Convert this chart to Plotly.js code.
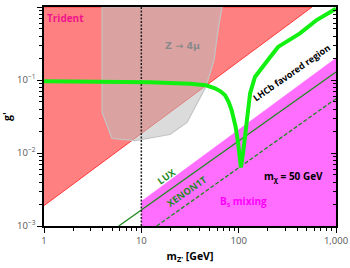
<!DOCTYPE html>
<html>
<head>
<meta charset="utf-8">
<script src="https://cdn.plot.ly/plotly-3.0.1.min.js"></script>
<style>html,body{margin:0;padding:0;background:#fff;}#chart{width:350px;height:268px;}</style>
</head>
<body>
<div id="chart"></div>
<script>
// ---- data ----
const tridentM = [1, 568, 1];
const tridentG = [0.0019, 1, 1];

const z4muM = [3.95, 67.5, 61.4, 55.9, 50.9, 45.2, 29.5, 19.7, 8.62, 5.0, 3.95, 3.95];
const z4muG = [1, 1, 0.483, 0.187, 0.124, 0.0769, 0.0262, 0.0179, 0.0148, 0.0158, 0.036, 1];

const bsM = [10, 1000, 1000, 10];
const bsG = [0.00217, 0.199, 0.001, 0.001];

const luxM = [5.86, 1000];
const luxG = [0.001, 0.129];

const xenonM = [14.4, 1000];
const xenonG = [0.001, 0.0555];

const cutM = [10, 10];
const cutG = [0.001, 1];

const relicM = [1, 3.76, 12.3, 31.6, 46.1, 57, 65, 72.5, 79, 84.8, 89, 93.2, 98.8, 105.4,
                111, 114, 118, 124, 131, 147, 170, 187.5, 210, 254, 330, 426, 633, 870, 1000];
const relicG = [0.096, 0.0944, 0.093, 0.0887, 0.0846, 0.0769, 0.070, 0.0616, 0.050, 0.0383, 0.029, 0.0226, 0.0135, 0.00635,
                0.0100, 0.0135, 0.0226, 0.0383, 0.0656, 0.110, 0.145, 0.170, 0.205, 0.284, 0.353, 0.435, 0.663, 0.861, 0.95];

const xTickVals = [1, 10, 100, 1000];
const xTickText = ['1', '10', '100', '1,000'];
const yTickVals = [0.001, 0.01, 0.1, 1];
const yTickText = ['10<sup>−3</sup>', '10<sup>−2</sup>', '10<sup>−1</sup>', '10<sup>0</sup>'];

// minor tick positions for log axes
function minorTicks(lo, hi) {
  const out = [];
  for (let d = lo; d < hi; d++) for (let k = 2; k <= 9; k++) out.push(k * Math.pow(10, d));
  return out;
}
const xMinor = minorTicks(0, 3);
const yMinor = minorTicks(-3, 0);

const FONT = 'Open Sans, DejaVu Sans, sans-serif';

const traces = [
  {x: tridentM, y: tridentG, mode: 'lines', fill: 'toself', fillcolor: '#ff8080',
   line: {color: '#ff3a3a', width: 1}, hoverinfo: 'skip'},
  {x: z4muM, y: z4muG, mode: 'lines', fill: 'toself', fillcolor: 'rgba(189,189,189,0.55)',
   line: {color: '#c4c4c4', width: 1.2}, hoverinfo: 'skip'},
  {x: bsM, y: bsG, mode: 'lines', fill: 'toself', fillcolor: '#ff6eff',
   line: {color: '#ff55ff', width: 0.5}, hoverinfo: 'skip'},
  {x: luxM, y: luxG, mode: 'lines', line: {color: '#1e8a1e', width: 1.3}, hoverinfo: 'skip'},
  {x: xenonM, y: xenonG, mode: 'lines', line: {color: '#1e8a1e', width: 1.3, dash: '4px,2px'}, hoverinfo: 'skip'},
  {x: cutM, y: cutG, mode: 'lines', line: {color: '#222', width: 1.5, dash: '2px,1.5px'}, hoverinfo: 'skip'},
  {x: relicM, y: relicG, mode: 'lines', line: {color: '#11f011', width: 4}, hoverinfo: 'skip'},
  {x: [1], y: [0.01], yaxis: 'y2', mode: 'markers', marker: {opacity: 0}, hoverinfo: 'skip'}
];

function ann(text, x, y, color, size, angle, fam) {
  return {text: '<b>' + text + '</b>', xref: 'paper', yref: 'paper', x: x, y: y,
          xanchor: 'center', yanchor: 'middle', showarrow: false, textangle: angle || 0,
          font: {family: fam || FONT, size: size, color: color}};
}

const layout = {
  width: 350, height: 268,
  margin: {l: 44, r: 14, t: 7, b: 42},
  paper_bgcolor: '#fff', plot_bgcolor: '#fff',
  showlegend: false,
  font: {family: FONT},
  xaxis: {
    type: 'log', range: [0, 3], tickmode: 'array', tickvals: xTickVals, ticktext: xTickText,
    ticks: 'outside', ticklen: 5, tickcolor: '#000', tickwidth: 1,
    showline: true, linecolor: '#000', linewidth: 1.6, mirror: true,
    showgrid: false, zeroline: false,
    tickfont: {family: FONT, size: 9.5, color: '#555'},
    minor: {tickmode: 'array', tickvals: xMinor, ticks: 'outside', ticklen: 3, tickcolor: '#000', tickwidth: 1, showgrid: false},
    title: {text: "<b>m<sub>Z'</sub> [GeV]</b>", font: {family: FONT, size: 10.5, color: '#000'}, standoff: 6}
  },
  yaxis: {
    type: 'log', range: [-3, 0], tickmode: 'array', tickvals: yTickVals, ticktext: yTickText,
    ticks: 'outside', ticklen: 5, tickcolor: '#000', tickwidth: 1,
    showline: true, linecolor: '#000', linewidth: 1.6, mirror: true,
    showgrid: false, zeroline: false,
    tickfont: {family: FONT, size: 9.5, color: '#555'},
    minor: {tickmode: 'array', tickvals: yMinor, ticks: 'outside', ticklen: 3, tickcolor: '#000', tickwidth: 1, showgrid: false},
    title: {text: "<b>g'</b>", font: {family: FONT, size: 10.5, color: '#000'}, standoff: 4}
  },
  yaxis2: {
    type: 'log', range: [-3, 0], overlaying: 'y', side: 'right', tickmode: 'array', tickvals: yTickVals,
    ticks: 'inside', ticklen: 5, tickcolor: '#000', tickwidth: 1, showticklabels: false,
    showline: false, showgrid: false, zeroline: false,
    minor: {tickmode: 'array', tickvals: yMinor, ticks: 'inside', ticklen: 3, tickcolor: '#000', tickwidth: 1, showgrid: false}
  },
  annotations: [
    ann('Trident', 0.075, 0.950, '#f0148c', 10, 0),
    ann('Z → 4μ', 0.476, 0.822, '#8a8a8a', 9.5, 0, 'DejaVu Sans, sans-serif'),
    ann('LHCb favored region', 0.849, 0.699, '#000', 9, -35),
    ann('LUX', 0.420, 0.225, '#1e8a1e', 9.5, -35),
    ann('XENON1T', 0.489, 0.157, '#1e8a1e', 9.5, -35),
    ann('B<sub>s</sub> mixing', 0.682, 0.114, '#ff00ff', 10, 0),
    ann('m<sub>χ</sub> = 50 GeV', 0.853, 0.225, '#000', 10, 0)
  ]
};

Plotly.newPlot('chart', traces, layout, {staticPlot: true, displayModeBar: false});
</script>
</body>
</html>
